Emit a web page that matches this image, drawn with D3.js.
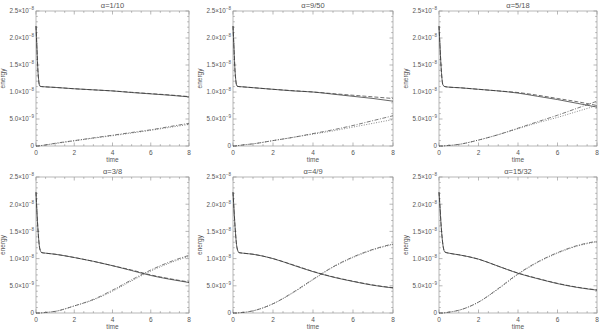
<!DOCTYPE html>
<html>
<head>
<meta charset="utf-8" />
<title>energy vs time</title>
<style type="text/css">
body{
	margin:0;
	background:#fff;
	font-family:"Liberation Sans", sans-serif;
}
</style>
<script src="https://cdn.jsdelivr.net/npm/d3@7"></script>
</head>
<body>
<div id="chart"></div>
<script>
	// data (energy in units of 1e-8)
	var times = [0, 0.05, 0.1, 0.2, 0.3, 0.5, 1, 2, 3, 4, 5, 6, 7, 8];
	var titles = ["1/10", "9/50", "5/18", "3/8", "4/9", "15/32"];

	var solidSeries = [
		[2.22, 1.80, 1.40, 1.11, 1.10, 1.095, 1.085, 1.06, 1.04, 1.02, 0.99, 0.965, 0.94, 0.91],
		[2.22, 1.80, 1.40, 1.11, 1.10, 1.095, 1.08, 1.05, 1.02, 1.00, 0.96, 0.92, 0.88, 0.83],
		[2.22, 1.85, 1.50, 1.13, 1.10, 1.09, 1.08, 1.05, 1.02, 0.98, 0.92, 0.86, 0.79, 0.72],
		[2.22, 1.85, 1.55, 1.18, 1.11, 1.10, 1.08, 1.02, 0.95, 0.87, 0.78, 0.69, 0.62, 0.56],
		[2.22, 1.90, 1.60, 1.20, 1.11, 1.10, 1.08, 1.00, 0.88, 0.76, 0.66, 0.58, 0.51, 0.46],
		[2.22, 1.95, 1.65, 1.25, 1.12, 1.10, 1.07, 0.99, 0.86, 0.73, 0.63, 0.54, 0.47, 0.42]
	];
	var dashedSeries = [
		[2.22, 1.80, 1.40, 1.11, 1.10, 1.095, 1.085, 1.06, 1.04, 1.02, 0.995, 0.97, 0.945, 0.915],
		[2.22, 1.80, 1.40, 1.11, 1.10, 1.095, 1.08, 1.05, 1.025, 1.00, 0.97, 0.94, 0.91, 0.88],
		[2.22, 1.85, 1.50, 1.13, 1.10, 1.09, 1.08, 1.05, 1.02, 0.99, 0.94, 0.88, 0.82, 0.75],
		[2.22, 1.85, 1.55, 1.18, 1.11, 1.10, 1.08, 1.02, 0.95, 0.87, 0.79, 0.70, 0.63, 0.57],
		[2.22, 1.90, 1.60, 1.20, 1.11, 1.10, 1.08, 1.00, 0.885, 0.765, 0.665, 0.585, 0.515, 0.465],
		[2.22, 1.95, 1.65, 1.25, 1.12, 1.10, 1.07, 0.99, 0.86, 0.735, 0.635, 0.545, 0.475, 0.425]
	];
	var dashDotSeries = [
		[0, 0, 0, 0.005, 0.01, 0.02, 0.05, 0.10, 0.15, 0.20, 0.25, 0.30, 0.36, 0.42],
		[0, 0, 0, 0.005, 0.01, 0.02, 0.04, 0.10, 0.16, 0.23, 0.30, 0.38, 0.47, 0.56],
		[0, 0, 0, 0, 0.005, 0.01, 0.03, 0.11, 0.21, 0.33, 0.45, 0.57, 0.70, 0.83],
		[0, 0, 0, 0, 0.003, 0.01, 0.03, 0.13, 0.25, 0.42, 0.61, 0.79, 0.94, 1.06],
		[0, 0, 0, 0, 0.005, 0.01, 0.04, 0.17, 0.38, 0.62, 0.85, 1.03, 1.17, 1.27],
		[0, 0, 0, 0, 0.005, 0.015, 0.05, 0.20, 0.45, 0.72, 0.94, 1.11, 1.24, 1.32]
	];
	var dottedSeries = [
		[0, 0, 0, 0.005, 0.01, 0.02, 0.045, 0.095, 0.145, 0.19, 0.24, 0.29, 0.345, 0.40],
		[0, 0, 0, 0.005, 0.01, 0.02, 0.04, 0.10, 0.16, 0.22, 0.28, 0.35, 0.42, 0.49],
		[0, 0, 0, 0, 0.005, 0.01, 0.03, 0.11, 0.21, 0.32, 0.43, 0.53, 0.64, 0.75],
		[0, 0, 0, 0, 0.003, 0.01, 0.03, 0.13, 0.24, 0.40, 0.59, 0.77, 0.92, 1.04],
		[0, 0, 0, 0, 0.005, 0.01, 0.04, 0.17, 0.37, 0.61, 0.84, 1.02, 1.16, 1.26],
		[0, 0, 0, 0, 0.005, 0.015, 0.05, 0.20, 0.44, 0.71, 0.93, 1.10, 1.23, 1.31]
	];

	var xTicks = [0, 2, 4, 6, 8];
	var yTicks = [0, 0.5, 1.0, 1.5, 2.0, 2.5];
	var yTickMant = ["0", "5.0", "1.0", "1.5", "2.0", "2.5"];
	var yTickExp = ["", "-9", "-8", "-8", "-8", "-8"];

	// panel boxes
	var colsX = [[36, 189], [233, 393], [439, 597]];
	var rowsY = [[11, 146], [177, 313]];

	var styles = [
		{ data: solidSeries, dash: null, color: "#222" },
		{ data: dashedSeries, dash: "4,2", color: "#333" },
		{ data: dottedSeries, dash: "1,1.5", color: "#555" },
		{ data: dashDotSeries, dash: "4,1.5,1,1.5", color: "#444" }
	];
	var axisColor = "#999";
	var textColor = "#555";

	//畫布
	var SVG = d3.select("#chart")
		.append("svg")
		.attr("width", 600)
		.attr("height", 331);

	SVG.append("rect")
		.attr("width", 600)
		.attr("height", 331)
		.attr("fill", "#fff");

	titles.forEach(function(t, p){
		var cx = colsX[p % 3], ry = rowsY[Math.floor(p / 3)];
		var x = d3.scaleLinear().domain([0, 8]).range([cx[0], cx[1]]);
		var y = d3.scaleLinear().domain([0, 2.5]).range([ry[1], ry[0]]);
		var g = SVG.append("g");

		// box
		g.append("rect")
			.attr("x", cx[0]).attr("y", ry[0])
			.attr("width", cx[1] - cx[0]).attr("height", ry[1] - ry[0])
			.attr("fill", "none").attr("stroke", axisColor).attr("stroke-width", 0.7);

		// ticks on all sides, pointing inward
		d3.range(0, 8.01, 0.5).forEach(function(v){
			var len = (v % 2 === 0) ? 3.5 : 1.8;
			g.append("line").attr("x1", x(v)).attr("x2", x(v)).attr("y1", ry[1]).attr("y2", ry[1] - len)
				.attr("stroke", axisColor).attr("stroke-width", 0.7);
			g.append("line").attr("x1", x(v)).attr("x2", x(v)).attr("y1", ry[0]).attr("y2", ry[0] + len)
				.attr("stroke", axisColor).attr("stroke-width", 0.7);
		});
		d3.range(0, 2.501, 0.1).forEach(function(v, i){
			var len = (i % 5 === 0) ? 3.5 : 1.8;
			g.append("line").attr("x1", cx[0]).attr("x2", cx[0] + len).attr("y1", y(v)).attr("y2", y(v))
				.attr("stroke", axisColor).attr("stroke-width", 0.7);
			g.append("line").attr("x1", cx[1]).attr("x2", cx[1] - len).attr("y1", y(v)).attr("y2", y(v))
				.attr("stroke", axisColor).attr("stroke-width", 0.7);
		});

		// x tick labels
		xTicks.forEach(function(v){
			g.append("text")
				.attr("x", x(v)).attr("y", ry[1] + 9)
				.attr("text-anchor", "middle")
				.attr("font-size", 6.5).attr("fill", textColor)
				.text(v);
		});
		// y tick labels
		yTicks.forEach(function(v, i){
			var t = g.append("text")
				.attr("x", cx[0] - 2).attr("y", y(v) + 2.3)
				.attr("text-anchor", "end")
				.attr("font-size", 6.3).attr("fill", textColor);
			if (yTickExp[i] === "") {
				t.text(yTickMant[i]);
			} else {
				t.append("tspan").text(yTickMant[i] + "\u00d710");
				t.append("tspan").attr("dy", -3).attr("font-size", 4.5).text(yTickExp[i].replace("-", "\u2212"));
			}
		});

		// axis titles
		g.append("text")
			.attr("x", (cx[0] + cx[1]) / 2).attr("y", ry[1] + 15.5)
			.attr("text-anchor", "middle")
			.attr("font-size", 6.5).attr("fill", textColor)
			.text("time");
		g.append("text")
			.attr("transform", "translate(" + (cx[0] - 31) + "," + ((ry[0] + ry[1]) / 2) + ") rotate(-90)")
			.attr("text-anchor", "middle")
			.attr("font-size", 6.5).attr("fill", textColor)
			.text("energy");
		g.append("text")
			.attr("x", (cx[0] + cx[1]) / 2).attr("y", ry[0] - 3.5)
			.attr("text-anchor", "middle")
			.attr("font-size", 7.5).attr("fill", textColor)
			.text("\u03b1=" + t);

		// curves
		var line = d3.line()
			.x(function(d, i){ return x(times[i]); })
			.y(function(d){ return y(d); })
			.curve(d3.curveMonotoneX);
		styles.forEach(function(s){
			g.append("path")
				.attr("d", line(s.data[p]))
				.attr("fill", "none")
				.attr("stroke", s.color)
				.attr("stroke-width", 0.7)
				.attr("stroke-dasharray", s.dash);
		});
	});
</script>
</body>
</html>
